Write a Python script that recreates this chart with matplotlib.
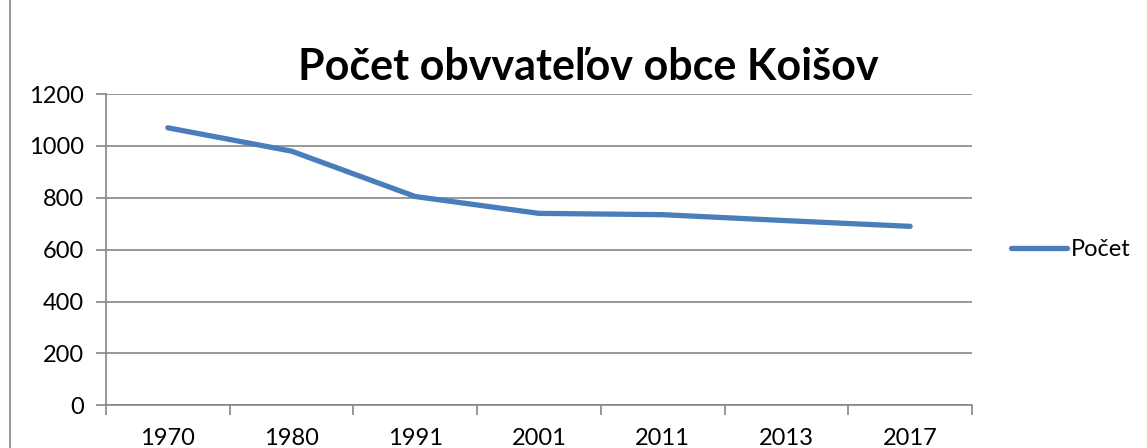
import matplotlib.pyplot as plt
from matplotlib.lines import Line2D

roky = ['1970', '1980', '1991', '2001', '2011', '2013', '2017']
pocet = [1070, 980, 805, 740, 735, 712, 690]
y_ticks = [0, 200, 400, 600, 800, 1000, 1200]

plt.rcParams['font.family'] = ['Lato', 'DejaVu Sans']

fig = plt.figure(figsize=(11.47, 4.48), dpi=100)
ax = fig.add_axes([0.0924, 0.0953, 0.755, 0.6947])

x = range(len(roky))
ax.plot(x, pocet, color='#4A7EBB', linewidth=3.8, solid_capstyle='round', label='Počet')

ax.set_xlim(-0.5, len(roky) - 0.5)
ax.set_ylim(0, 1200)
ax.set_yticks(y_ticks)
ax.set_yticklabels([str(v) for v in y_ticks], fontsize=17)
ax.set_xticks(list(x))
ax.set_xticklabels(roky, fontsize=17)
ax.set_xticks([i - 0.5 for i in range(len(roky) + 1)], minor=True)
ax.tick_params(axis='x', which='major', length=0, pad=16)
ax.tick_params(axis='x', which='minor', length=7, color='#868686', width=1.2)
ax.tick_params(axis='y', length=7, color='#868686', width=1.2, pad=9)

ax.grid(axis='y', color='#868686', linewidth=1.2)
ax.set_axisbelow(True)
for s in ['top', 'right']:
    ax.spines[s].set_visible(False)
for s in ['left', 'bottom']:
    ax.spines[s].set_color('#868686')
    ax.spines[s].set_linewidth(1.2)

fig.text(0.513, 0.85, 'Počet obvvateľov obce Koišov', ha='center', va='center',
         fontsize=31, fontweight='bold')

ax.legend(loc='center left', bbox_to_anchor=(1.02, 0.5), frameon=False,
          fontsize=17, handlelength=2.4, handletextpad=0.15)

fig.add_artist(Line2D([10 / 1147, 10 / 1147], [0, 1], color='#868686', linewidth=1.2))

fig.savefig('out.png', dpi=100)
